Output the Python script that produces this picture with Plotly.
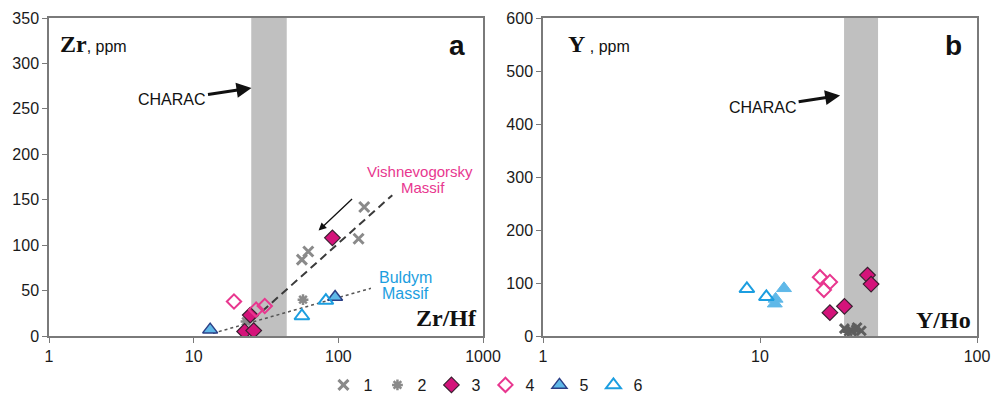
import numpy as np
import plotly.graph_objects as go

# ---------------- data ----------------
# Panel a: Zr/Hf (x) vs Zr ppm (y)
a_s1_x = [151, 138, 56, 62]
a_s1_y = [142, 107, 84, 93]
a_s2_x = [57, 23]
a_s2_y = [40, 16]
a_s3_x = [91, 24.6, 22.5, 26]
a_s3_y = [108, 23, 5, 6]
a_s4_x = [19, 27, 31]
a_s4_y = [38, 29, 33]
a_s5_x = [13, 95]
a_s5_y = [7, 43]
a_s6_x = [56, 82]
a_s6_y = [22, 39]
a_dash_x = [25.5, 236]
a_dash_y = [17.6, 155]
a_dot_x = [13.6, 168]
a_dot_y = [3, 52.5]
a_charac = [25, 44]

# Panel b: Y/Ho (x) vs Y ppm (y)
b_s1_x = [24.5, 26.5, 28.0, 29.3]
b_s1_y = [14, 9, 16, 10]
b_s2_x = [25.5, 27.5]
b_s2_y = [8, 13]
b_s3_x = [21, 24.5, 31.3, 32.5]
b_s3_y = [44, 56, 115, 98]
b_s4_x = [18.9, 21, 19.7]
b_s4_y = [111, 102, 87]
b_s5_x = [12.9, 11.8, 11.7]
b_s5_y = [90, 70, 61]
b_s6_x = [8.7, 10.7]
b_s6_y = [89, 74]
b_charac = [24.4, 35]

x_tick_a = [1, 10, 100, 1000]
x_tick_b = [1, 10, 100]
y_tick_a = list(range(0, 351, 50))
y_tick_b = list(range(0, 601, 100))
legend_names = ["1", "2", "3", "4", "5", "6"]

# ---------------- styles ----------------
GRAY = "#8a8a8a"
DGRAY = "#5e5e5e"
MAG = "#d4137a"
PINK = "#e8378f"
LBLUE = "#5fb8e8"
BLUE = "#1c9ee0"
NAVY = "#2b3f86"
AXC = "#7a7a7a"

fig = go.Figure()

def add(x, y, name, xa, ya, marker, show):
    fig.add_trace(go.Scatter(x=x, y=y, mode="markers", name=name, legendgroup=name,
                             showlegend=show, marker=marker, xaxis=xa, yaxis=ya))

# CHARAC bands
fig.add_trace(go.Scatter(x=[a_charac[0], a_charac[1], a_charac[1], a_charac[0]],
                         y=[0, 0, 350, 350], fill="toself", fillcolor="#c0c0c0",
                         line=dict(width=0), mode="lines", showlegend=False,
                         hoverinfo="skip", xaxis="x", yaxis="y"))
fig.add_trace(go.Scatter(x=[b_charac[0], b_charac[1], b_charac[1], b_charac[0]],
                         y=[0, 0, 600, 600], fill="toself", fillcolor="#c0c0c0",
                         line=dict(width=0), mode="lines", showlegend=False,
                         hoverinfo="skip", xaxis="x2", yaxis="y2"))

# trend lines
fig.add_trace(go.Scatter(x=a_dash_x, y=a_dash_y, mode="lines", showlegend=False,
                         line=dict(color="#3a3a3a", width=2, dash="8px,5px"), xaxis="x", yaxis="y"))
fig.add_trace(go.Scatter(x=a_dot_x, y=a_dot_y, mode="lines", showlegend=False,
                         line=dict(color="#555555", width=1.5, dash="dot"), xaxis="x", yaxis="y"))

m1 = dict(symbol="x-thin", size=10, line=dict(color=GRAY, width=3), color=GRAY)
m2 = dict(symbol="asterisk", size=9, line=dict(color=GRAY, width=2.5), color=GRAY)
m3 = dict(symbol="diamond", size=12, color=MAG, line=dict(color="#3a2030", width=1.2))
m4 = dict(symbol="diamond-open", size=11, color=PINK, line=dict(color=PINK, width=2))
m5 = dict(symbol="triangle-up", size=13, color=LBLUE, line=dict(color=NAVY, width=1.5))
m6 = dict(symbol="triangle-up-open", size=13, color=BLUE, line=dict(color=BLUE, width=2))

add(a_s1_x, a_s1_y, legend_names[0], "x", "y", m1, True)
add(a_s2_x, a_s2_y, legend_names[1], "x", "y", m2, True)
add(a_s3_x, a_s3_y, legend_names[2], "x", "y", m3, True)
add(a_s4_x, a_s4_y, legend_names[3], "x", "y", m4, True)
add(a_s5_x, a_s5_y, legend_names[4], "x", "y", m5, True)
add(a_s6_x, a_s6_y, legend_names[5], "x", "y", m6, True)

mb1 = dict(symbol="x-thin", size=9, line=dict(color=DGRAY, width=3), color=DGRAY)
mb2 = dict(symbol="asterisk", size=9, line=dict(color=DGRAY, width=2.5), color=DGRAY)
mb5 = dict(symbol="triangle-up", size=13, color=LBLUE, line=dict(color=LBLUE, width=1))
add(b_s1_x, b_s1_y, legend_names[0], "x2", "y2", mb1, False)
add(b_s2_x, b_s2_y, legend_names[1], "x2", "y2", mb2, False)
add(b_s3_x, b_s3_y, legend_names[2], "x2", "y2", m3, False)
add(b_s4_x, b_s4_y, legend_names[3], "x2", "y2", m4, False)
add(b_s5_x, b_s5_y, legend_names[4], "x2", "y2", mb5, False)
add(b_s6_x, b_s6_y, legend_names[5], "x2", "y2", m6, False)

W, H = 1003, 400
dom_y = [1 - 336 / H, 1 - 18 / H]
axis_common = dict(showline=True, mirror=True, linecolor=AXC, linewidth=1.5,
                   showgrid=False, zeroline=False, ticks="outside", ticklen=5,
                   tickcolor=AXC, automargin=False,
                   tickfont=dict(family="Liberation Sans, Arial", size=16, color="#1a1a1a"))

fig.update_layout(
    width=W, height=H, margin=dict(l=0, r=0, t=0, b=0, autoexpand=False),
    paper_bgcolor="white", plot_bgcolor="white",
    xaxis=dict(type="log", range=[0, 3], domain=[49 / W, 483 / W], anchor="y",
               tickvals=x_tick_a, ticktext=[str(v) for v in x_tick_a], **axis_common),
    yaxis=dict(range=[0, 350], domain=dom_y, anchor="x", tickvals=y_tick_a, **axis_common),
    xaxis2=dict(type="log", range=[0, 2], domain=[543 / W, 977 / W], anchor="y2",
                tickvals=x_tick_b, ticktext=[str(v) for v in x_tick_b], **axis_common),
    yaxis2=dict(range=[0, 600], domain=dom_y, anchor="x2", tickvals=y_tick_b, **axis_common),
    legend=dict(orientation="h", x=0.484, xanchor="center", y=1 - 385 / H, yanchor="middle",
                font=dict(family="Liberation Sans, Arial", size=16, color="#1a1a1a"),
                itemwidth=30, tracegroupgap=0, bgcolor="rgba(0,0,0,0)"),
    showlegend=True,
)

def px(xp, yp):
    return xp / W, 1 - yp / H

ann = []
serif = "Liberation Serif, Times New Roman"
sans = "Liberation Sans, Arial"

def label(text, xp, yp, font, xanchor="center"):
    x0, y0 = px(xp, yp)
    ann.append(dict(xref="paper", yref="paper", x=x0, y=y0, xanchor=xanchor, yanchor="middle",
                    text=text, font=font, showarrow=False))

# panel titles
label("<b>Zr</b><span style='font-family:Liberation Sans;font-size:16px'>, ppm</span>",
      58, 44, dict(family=serif, size=24, color="#111"), "left")
label("<b>Y</b><span style='font-family:Liberation Sans;font-size:16px'> , ppm</span>",
      566, 44, dict(family=serif, size=24, color="#111"), "left")
label("<b>a</b>", 457, 45, dict(family=sans, size=28, color="#111"))
label("<b>b</b>", 953, 45, dict(family=sans, size=28, color="#111"))
label("<b>Zr/Hf</b>", 446, 318, dict(family=serif, size=24, color="#111"))
label("<b>Y/Ho</b>", 943, 320, dict(family=serif, size=24, color="#111"))
# massif labels
label("Vishnevogorsky", 420, 172, dict(family=sans, size=15, color=PINK))
label("Massif", 423, 187, dict(family=sans, size=15, color=PINK))
label("Buldym", 405, 277, dict(family=sans, size=16, color=BLUE))
label("Massif", 405, 293, dict(family=sans, size=16, color=BLUE))

# CHARAC arrows
ann.append(dict(xref="x", yref="y", x=np.log10(25.1), y=273, ax=-79, ay=12, text="CHARAC",
                font=dict(family=sans, size=16, color="#111"), showarrow=True,
                arrowhead=2, arrowsize=1, arrowwidth=3, arrowcolor="#111"))
ann.append(dict(xref="x2", yref="y2", x=np.log10(23.4), y=454, ax=-77, ay=12, text="CHARAC",
                font=dict(family=sans, size=16, color="#111"), showarrow=True,
                arrowhead=2, arrowsize=1, arrowwidth=3, arrowcolor="#111"))
# small arrow toward lower-left
ann.append(dict(xref="x", yref="y", x=np.log10(73), y=116, ax=35, ay=-33, text="",
                showarrow=True, arrowhead=2, arrowsize=1.2, arrowwidth=1.3, arrowcolor="#111"))

fig.update_layout(annotations=ann)
fig.write_html("out.html")
